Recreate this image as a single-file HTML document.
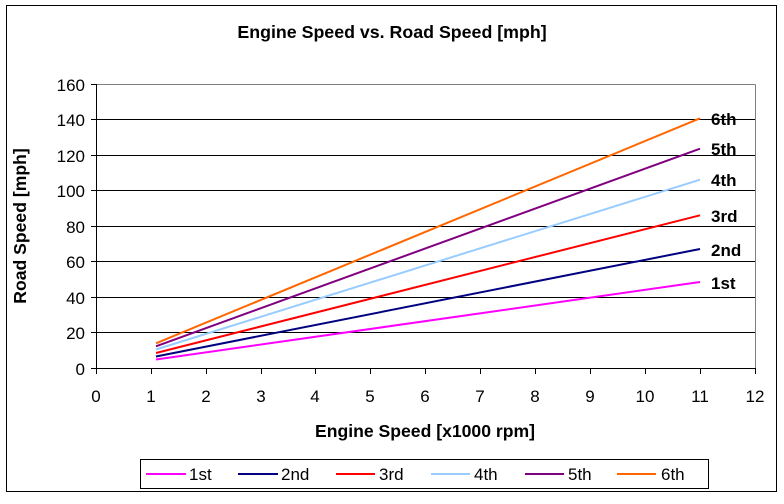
<!DOCTYPE html>
<html><head><meta charset="utf-8"><style>
body{margin:0;background:#fff}
svg text{font-family:"Liberation Sans",Arial,sans-serif}
</style></head><body>
<svg width="784" height="499" viewBox="0 0 784 499" xmlns="http://www.w3.org/2000/svg">
<rect x="0" y="0" width="784" height="499" fill="#fff"/>
<rect x="6.5" y="5.5" width="770" height="486" fill="none" stroke="#000" stroke-width="1"/>
<text x="392" y="38" font-size="17.8" font-weight="bold" text-anchor="middle">Engine Speed vs. Road Speed [mph]</text>
<g stroke="#000" stroke-width="1">
<line x1="96" y1="119.5" x2="755" y2="119.5"/>
<line x1="96" y1="155.5" x2="755" y2="155.5"/>
<line x1="96" y1="190.5" x2="755" y2="190.5"/>
<line x1="96" y1="226.5" x2="755" y2="226.5"/>
<line x1="96" y1="261.5" x2="755" y2="261.5"/>
<line x1="96" y1="297.5" x2="755" y2="297.5"/>
<line x1="96" y1="332.5" x2="755" y2="332.5"/>
</g>
<g stroke="#808080" fill="none"><line x1="96" y1="84.5" x2="755.5" y2="84.5"/><line x1="755.5" y1="84.5" x2="755.5" y2="368"/></g>
<g stroke="#000">
<line x1="96.5" y1="84" x2="96.5" y2="369"/>
<line x1="96" y1="368.5" x2="756" y2="368.5"/>
</g>
<g stroke="#000">
<line x1="91" y1="84.5" x2="96" y2="84.5"/><line x1="91" y1="119.5" x2="96" y2="119.5"/><line x1="91" y1="155.5" x2="96" y2="155.5"/><line x1="91" y1="190.5" x2="96" y2="190.5"/><line x1="91" y1="226.5" x2="96" y2="226.5"/><line x1="91" y1="261.5" x2="96" y2="261.5"/><line x1="91" y1="297.5" x2="96" y2="297.5"/><line x1="91" y1="332.5" x2="96" y2="332.5"/><line x1="91" y1="368.5" x2="96" y2="368.5"/>
<line x1="96.5" y1="368" x2="96.5" y2="374"/><line x1="151.5" y1="368" x2="151.5" y2="374"/><line x1="206.5" y1="368" x2="206.5" y2="374"/><line x1="261.5" y1="368" x2="261.5" y2="374"/><line x1="315.5" y1="368" x2="315.5" y2="374"/><line x1="370.5" y1="368" x2="370.5" y2="374"/><line x1="425.5" y1="368" x2="425.5" y2="374"/><line x1="480.5" y1="368" x2="480.5" y2="374"/><line x1="535.5" y1="368" x2="535.5" y2="374"/><line x1="590.5" y1="368" x2="590.5" y2="374"/><line x1="645.5" y1="368" x2="645.5" y2="374"/><line x1="700.5" y1="368" x2="700.5" y2="374"/><line x1="755.5" y1="368" x2="755.5" y2="374"/>
</g>
<g font-size="17" text-anchor="end">
<text x="85" y="91">160</text><text x="85" y="126">140</text><text x="85" y="162">120</text><text x="85" y="197">100</text><text x="85" y="233">80</text><text x="85" y="268">60</text><text x="85" y="304">40</text><text x="85" y="339">20</text><text x="85" y="375">0</text>
</g>
<g font-size="17" text-anchor="middle">
<text x="96" y="402">0</text><text x="151" y="402">1</text><text x="206" y="402">2</text><text x="261" y="402">3</text><text x="315" y="402">4</text><text x="370" y="402">5</text><text x="425" y="402">6</text><text x="480" y="402">7</text><text x="535" y="402">8</text><text x="590" y="402">9</text><text x="645" y="402">10</text><text x="700" y="402">11</text><text x="755" y="402">12</text>
</g>
<text x="425" y="437" font-size="17.6" font-weight="bold" text-anchor="middle">Engine Speed [x1000 rpm]</text>
<text transform="translate(26,226) rotate(-90)" font-size="17.6" font-weight="bold" text-anchor="middle">Road Speed [mph]</text>
<g stroke-width="2" fill="none">
<line x1="156" y1="359.5" x2="700" y2="282" stroke="#ff00ff"/>
<line x1="156" y1="356.5" x2="700" y2="249" stroke="#000080"/>
<line x1="156" y1="353" x2="700" y2="215.3" stroke="#ff0000"/>
<line x1="156" y1="349.5" x2="700" y2="179.7" stroke="#99ccff"/>
<line x1="156" y1="346.3" x2="700" y2="148.7" stroke="#800080"/>
<line x1="156" y1="343.3" x2="700" y2="118.3" stroke="#ff6600"/>
</g>
<g font-size="17" font-weight="bold">
<text x="711" y="125">6th</text><text x="711" y="155">5th</text><text x="711" y="186">4th</text><text x="711" y="222">3rd</text><text x="711" y="256">2nd</text><text x="711" y="289">1st</text>
</g>
<rect x="140.5" y="459.5" width="568" height="29" fill="none" stroke="#000"/>
<g stroke-width="2">
<line x1="146" y1="474" x2="186" y2="474" stroke="#ff00ff"/>
<line x1="238" y1="474" x2="278" y2="474" stroke="#000080"/>
<line x1="336" y1="474" x2="375" y2="474" stroke="#ff0000"/>
<line x1="431" y1="474" x2="470" y2="474" stroke="#99ccff"/>
<line x1="525" y1="474" x2="564" y2="474" stroke="#800080"/>
<line x1="617" y1="474" x2="656" y2="474" stroke="#ff6600"/>
</g>
<g font-size="17">
<text x="189" y="480">1st</text><text x="281" y="480">2nd</text><text x="379" y="480">3rd</text><text x="474" y="480">4th</text><text x="568" y="480">5th</text><text x="661" y="480">6th</text>
</g>
</svg>
</body></html>
